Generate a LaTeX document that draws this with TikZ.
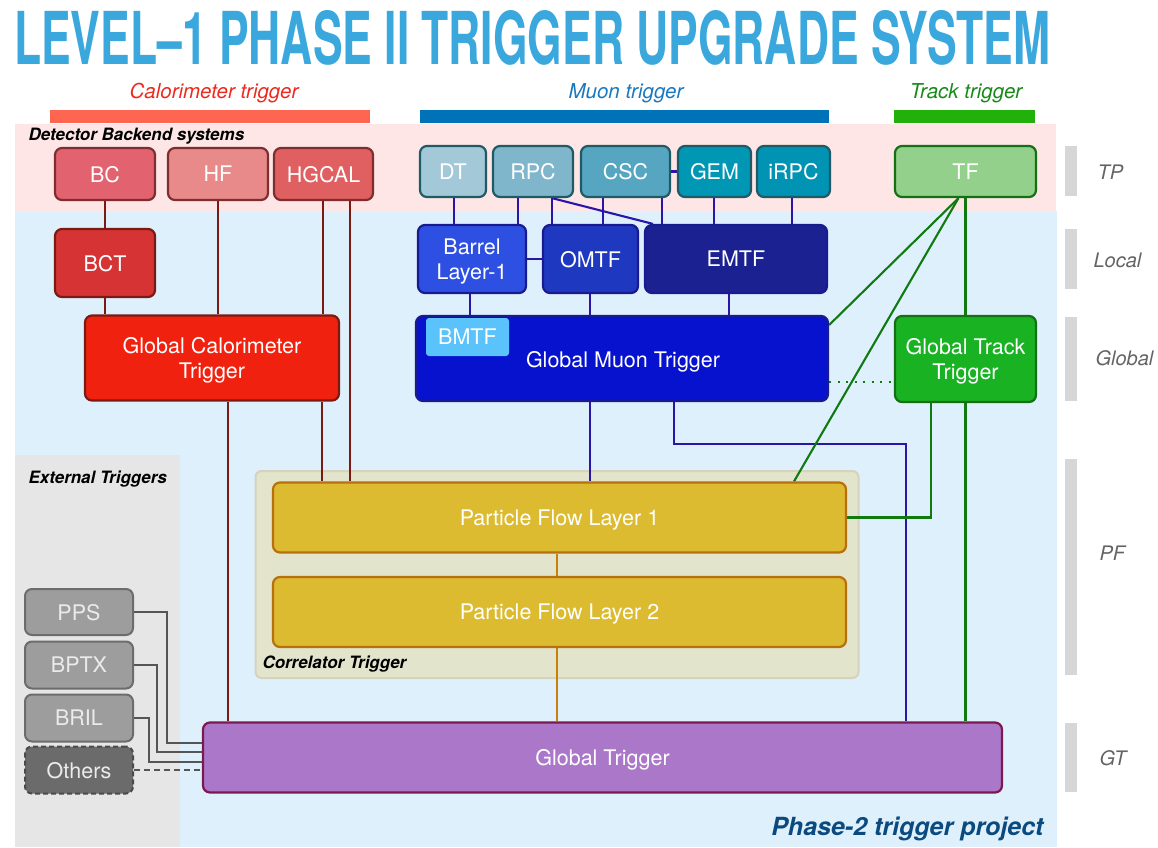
\documentclass[tikz,border=0pt]{standalone}
\usepackage{fontspec}
\usepackage{graphicx}
\setmainfont{TeX Gyre Heros}
\definecolor{titleblue}{HTML}{3AA7DD}
\definecolor{calbar}{HTML}{FF6651}
\definecolor{caltext}{HTML}{EE2A1E}
\definecolor{mubar}{HTML}{0073B8}
\definecolor{mutext}{HTML}{1A78C0}
\definecolor{trbar}{HTML}{22B00B}
\definecolor{trtext}{HTML}{178A17}
\definecolor{pinkbg}{HTML}{FDE6E5}
\definecolor{bluebg}{HTML}{DFF0FD}
\definecolor{graybg}{HTML}{E6E6E6}
\definecolor{sidebar}{HTML}{D6D6D6}
\definecolor{sidetext}{HTML}{646464}
\definecolor{calline}{HTML}{7A1A12}
\definecolor{calborder}{HTML}{7E2E2E}
\definecolor{bcfill}{HTML}{E2636F}
\definecolor{hffill}{HTML}{E88A89}
\definecolor{hgfill}{HTML}{E06062}
\definecolor{bctfill}{HTML}{D63434}
\definecolor{gctfill}{HTML}{F0220F}
\definecolor{muborder}{HTML}{1F5A66}
\definecolor{dtfill}{HTML}{A3C9D9}
\definecolor{rpcfill}{HTML}{7FB6CC}
\definecolor{cscfill}{HTML}{56A6C2}
\definecolor{gemfill}{HTML}{0097B5}
\definecolor{irpcfill}{HTML}{0093B3}
\definecolor{muline}{HTML}{2B15A8}
\definecolor{muboxborder}{HTML}{1A1A90}
\definecolor{barfill}{HTML}{2E50E2}
\definecolor{omtffill}{HTML}{1F38C0}
\definecolor{emtffill}{HTML}{1B2190}
\definecolor{gmtfill}{HTML}{0612CD}
\definecolor{bmtffill}{HTML}{5AC3FB}
\definecolor{tffill}{HTML}{93D08B}
\definecolor{gttfill}{HTML}{19B222}
\definecolor{trborder}{HTML}{157015}
\definecolor{trline}{HTML}{107A10}
\definecolor{pffill}{HTML}{DCBB30}
\definecolor{pfborder}{HTML}{B8700E}
\definecolor{pfline}{HTML}{C8800A}
\definecolor{corrfill}{HTML}{E2E4CC}
\definecolor{corrborder}{HTML}{D6D2BC}
\definecolor{gtfill}{HTML}{AB78C9}
\definecolor{gtborder}{HTML}{7A1850}
\definecolor{extfill}{HTML}{9D9D9D}
\definecolor{extborder}{HTML}{6C6C6C}
\definecolor{extline}{HTML}{555555}
\definecolor{othfill}{HTML}{6B6B6B}
\definecolor{othborder}{HTML}{4A4A4A}
\definecolor{phasetext}{HTML}{0B4A7F}
\pgfdeclarelayer{back}
\pgfdeclarelayer{mid}
\pgfsetlayers{back,mid,main}
\tikzset{
  box/.style={rounded corners=7pt, line width=2.2pt, text=white, align=center,
    inner sep=0pt, text depth=0pt, font=\fontsize{21.5}{25}\selectfont},
  sz/.style 2 args={minimum width=#1pt, minimum height=#2pt},
  calbox/.style={box, draw=calborder},
  mubox/.style={box, draw=muborder},
  mbox/.style={box, draw=muboxborder},
  trbox/.style={box, draw=trborder},
  pfbox/.style={box, draw=pfborder},
  extbox/.style={box, draw=extborder, fill=extfill, text=white!92!black, line width=2pt},
  calwire/.style={draw=calline, line width=2.1pt},
  muwire/.style={draw=muline, line width=2.1pt},
  trwire/.style={draw=trline, line width=2.1pt},
  pfwire/.style={draw=pfline, line width=2.1pt},
  extwire/.style={draw=extline, line width=2.1pt},
  sidelabel/.style={anchor=west, text=sidetext, font=\itshape\fontsize{20}{24}\selectfont},
  cattext/.style={font=\itshape\fontsize{20.5}{24}\selectfont},
  grouplabel/.style={anchor=west, font=\bfseries\itshape\fontsize{17}{19}\selectfont},
}
\begin{document}
\begin{tikzpicture}[x=1pt,y=-1pt]
\useasboundingbox (0,0) rectangle (1158,847);

% ---------- backgrounds ----------
\begin{pgfonlayer}{back}
  \fill[white] (0,0) rectangle (1158,847);
  \fill[bluebg] (15,211) rectangle (1057,847);
  \fill[pinkbg] (15,124) rectangle (1056,212);
  \fill[graybg] (15,455) rectangle (180,847);
  \fill[calbar] (50,110) rectangle (370,123);
  \fill[mubar] (420,110) rectangle (829,123);
  \fill[trbar] (894,110) rectangle (1035,123);
  \foreach \ya/\yb in {146/196, 229/289, 317/401, 459/675, 723/792}
    \fill[sidebar] (1065,\ya) rectangle (1077,\yb);
  \node[rounded corners=6pt, fill=corrfill, draw=corrborder, line width=2pt,
        minimum width=603pt, minimum height=207pt] (corr) at (557,574.5) {};
\end{pgfonlayer}

% ---------- title & labels ----------
\node[anchor=west, text=titleblue, inner sep=0pt] (title) at (14,37.5)
  {\resizebox{1036pt}{54pt}{\bfseries LEVEL–1 PHASE II TRIGGER UPGRADE SYSTEM}};
\node[cattext, text=caltext] (calcat) at (214,93) {Calorimeter trigger};
\node[cattext, text=mutext] (mucat) at (626,93) {Muon trigger};
\node[cattext, text=trtext] (trcat) at (966,93) {Track trigger};
\node[grouplabel] (dbs) at (25,136) {Detector Backend systems};
\node[grouplabel] (ext) at (25,479) {External Triggers};
\node[grouplabel] (corrlab) at (259,664) {Correlator Trigger};
\node[anchor=east, text=phasetext, font=\bfseries\itshape\fontsize{25}{28}\selectfont]
  (phase) at (1047,829) {Phase-2 trigger project};
\node[sidelabel] (tp) at (1094,172) {TP};
\node[sidelabel] (local) at (1090,260) {Local};
\node[sidelabel] (global) at (1092,358) {Global};
\node[sidelabel] (pf) at (1096,553) {PF};
\node[sidelabel] (gtl) at (1096,758) {GT};

% ---------- calorimeter ----------
\node[calbox, fill=bcfill, sz={100}{52}] (bc) at (105,174) {BC};
\node[calbox, fill=hffill, sz={100}{52}] (hf) at (218,174) {HF};
\node[calbox, fill=hgfill, sz={99}{52}] (hgcal) at (323.5,174) {HGCAL};
\node[calbox, draw=calline, fill=bctfill, sz={100}{68}] (bct) at (105,263) {BCT};
\node[calbox, draw=calline, fill=gctfill, sz={254}{85}] (gct) at (212,358) {Global Calorimeter\\Trigger};

% ---------- muon ----------
\node[mubox, fill=dtfill, sz={66}{51}] (dt) at (453,171.5) {DT};
\node[mubox, fill=rpcfill, sz={80}{51}] (rpc) at (533,171.5) {RPC};
\node[mubox, fill=cscfill, sz={89}{51}] (csc) at (625.5,171.5) {CSC};
\node[mubox, fill=gemfill, sz={73}{51}] (gem) at (714.5,171.5) {GEM};
\node[mubox, fill=irpcfill, sz={73}{51}] (irpc) at (793.5,171.5) {iRPC};
\node[mbox, fill=barfill, sz={108}{68}] (barrel) at (472,259) {Barrel\\Layer-1};
\node[mbox, fill=omtffill, sz={95}{68}] (omtf) at (590.5,259) {OMTF};
\node[mbox, fill=emtffill, sz={182}{68}] (emtf) at (736,259) {EMTF};
\node[mbox, fill=gmtfill, sz={412}{85}] (gmt) at (622,358.5) {};
\node[text=white, inner sep=0pt, text depth=0pt, font=\fontsize{21.5}{25}\selectfont] (gmtlab) at (623,359) {Global Muon Trigger};
\node[box, draw=none, rounded corners=3pt, fill=bmtffill, sz={83}{38}] (bmtf) at (467.5,337) {BMTF};

% ---------- track ----------
\node[trbox, fill=tffill, sz={141}{51}] (tf) at (965.5,171.5) {TF};
\node[trbox, fill=gttfill, sz={141}{86}] (gtt) at (965.5,359) {Global Track\\Trigger};

% ---------- particle flow & GT ----------
\node[pfbox, fill=pffill, sz={573}{70}] (pf1) at (559.5,517.5) {Particle Flow Layer 1};
\node[pfbox, fill=pffill, sz={573}{70}] (pf2) at (559.5,612) {Particle Flow Layer 2};
\node[box, draw=gtborder, fill=gtfill, sz={799}{70}] (gt) at (602.5,757.5) {Global Trigger};

% ---------- external ----------
\node[extbox, sz={108}{46}] (pps) at (79,612) {PPS};
\node[extbox, sz={108}{47}] (bptx) at (79,665) {BPTX};
\node[extbox, sz={108}{47}] (bril) at (79,718) {BRIL};
\node[extbox, draw=othborder, fill=othfill, dash pattern=on 5pt off 3pt, sz={108}{47}] (others) at (79,770) {Others};

% ---------- helper coordinates ----------
\path (323,0) coordinate (xhg1) (350,0) coordinate (xhg2)
      (228,0) coordinate (xgc1) (322,0) coordinate (xgc2)
      (454,0) coordinate (xdt) (518,0) coordinate (xrpc1) (552,0) coordinate (xrpc2)
      (653,0) coordinate (xdiag) (603,0) coordinate (xcsc1) (662,0) coordinate (xcsc2)
      (714,0) coordinate (xgem) (792,0) coordinate (xirpc)
      (470,0) coordinate (xbar) (590,0) coordinate (xomtf) (729,0) coordinate (xemtf)
      (674,0) coordinate (xgm2) (906,0) coordinate (xgm3)
      (794,0) coordinate (xtf2) (931,0) coordinate (xgt1) (557,0) coordinate (xpf)
      (0,325) coordinate (ytf1) (0,444) coordinate (ygm) (0,382) coordinate (ydot)
      (167,0) coordinate (xpps) (157,0) coordinate (xbptx) (149,0) coordinate (xbril)
      (0,743) coordinate (ypps) (0,752) coordinate (ybptx) (0,762) coordinate (ybril)
      ([xshift=-7pt]tf.south) coordinate (tfs);

% ---------- connectors ----------
\begin{pgfonlayer}{mid}
  % calorimeter
  \draw[calwire] (bc.south) -- (bct.north);
  \draw[calwire] (bct.south) -- (bct.south |- gct.north);
  \draw[calwire] (hf.south) -- (hf.south |- gct.north);
  \draw[calwire] (hgcal.south -| xhg1) -- (gct.north -| xhg1);
  \draw[calwire] (hgcal.south -| xhg2) -- (pf1.north -| xhg2);
  \draw[calwire] (gct.south -| xgc1) -- (gt.north -| xgc1);
  \draw[calwire] (gct.south -| xgc2) -- (pf1.north -| xgc2);
  % muon
  \draw[muwire] (dt.south -| xdt) -- (barrel.north -| xdt);
  \draw[muwire] (rpc.south -| xrpc1) -- (barrel.north -| xrpc1);
  \draw[muwire] (rpc.south -| xrpc2) -- (omtf.north -| xrpc2);
  \draw[muwire] (rpc.south -| xrpc2) -- (emtf.north -| xdiag);
  \draw[muwire] (csc.south -| xcsc1) -- (omtf.north -| xcsc1);
  \draw[muwire] (csc.south -| xcsc2) -- (emtf.north -| xcsc2);
  \draw[muwire] (csc.east) -- (gem.west);
  \draw[muwire] (gem.south -| xgem) -- (emtf.north -| xgem);
  \draw[muwire] (irpc.south -| xirpc) -- (emtf.north -| xirpc);
  \draw[muwire] (barrel.east) -- (omtf.west);
  \draw[muwire] (barrel.south -| xbar) -- (gmt.north -| xbar);
  \draw[muwire] (omtf.south -| xomtf) -- (gmt.north -| xomtf);
  \draw[muwire] (emtf.south -| xemtf) -- (gmt.north -| xemtf);
  \draw[muwire] (gmt.south -| xomtf) -- (pf1.north -| xomtf);
  \draw[muwire] (gmt.south -| xgm2) |- (xgm3 |- ygm) -- (gt.north -| xgm3);
  % track
  \draw[trwire] (tfs) -- (gmt.east |- ytf1);
  \draw[trwire] (tfs) -- (pf1.north -| xtf2);
  \draw[trwire] (tf.south) -- (gtt.north);
  \draw[trwire] (gtt.south -| xgt1) |- (pf1.east);
  \draw[trwire] (gtt.south) -- (gt.north -| gtt.south);
  \draw[trwire, line width=2pt, dash pattern=on 2pt off 6.5pt] (gmt.east |- ydot) -- (gtt.west |- ydot);
  % particle flow
  \draw[pfwire] (pf1.south -| xpf) -- (pf2.north -| xpf);
  \draw[pfwire] (pf2.south -| xpf) -- (gt.north -| xpf);
  % external
  \draw[extwire] (pps.east) -| (xpps |- ypps) -- (gt.west |- ypps);
  \draw[extwire] (bptx.east) -| (xbptx |- ybptx) -- (gt.west |- ybptx);
  \draw[extwire] (bril.east) -| (xbril |- ybril) -- (gt.west |- ybril);
  \draw[extwire, dash pattern=on 6pt off 4pt] (others.east) -- (gt.west |- others.east);
\end{pgfonlayer}
\end{tikzpicture}
\end{document}
